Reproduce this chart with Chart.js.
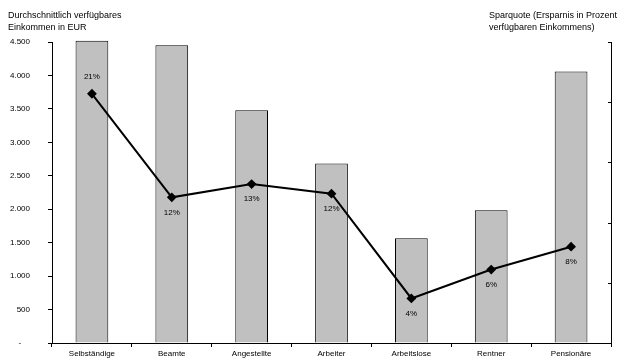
<!DOCTYPE html>
<html>
<head>
<meta charset="utf-8">
<script src="https://cdn.jsdelivr.net/npm/chart.js@4/dist/chart.umd.min.js"></script>
<style>
    body { margin: 0; background: #fff; }
    canvas { display: block; }
</style>
</head>
<body>
<canvas id="chart" width="634" height="362"></canvas>
<script>
// Daten
const kategorien = ['Selbständige', 'Beamte', 'Angestellte', 'Arbeiter', 'Arbeitslose', 'Rentner', 'Pensionäre'];
const einkommen = [4520, 4450, 3480, 2685, 1565, 1985, 4060];
const sparquote = [20.7, 12.1, 13.2, 12.4, 3.7, 6.1, 8.0];
const sparquoteLabels = ['21%', '12%', '13%', '12%', '4%', '6%', '8%'];
const titelLinks = ['Durchschnittlich verfügbares', 'Einkommen in EUR'];
const titelRechts = ['Sparquote (Ersparnis in Prozent', 'verfügbaren Einkommens)'];

const FONT = '"Liberation Sans", Arial, sans-serif';

function formatEUR(v) {
    if (v === 0) return '-    ';
    return String(v).replace(/\B(?=(\d{3})+(?!\d))/g, '.');
}

// Titel, Beschriftungen und Ticks der rechten Achse
const extras = {
    id: 'extras',
    afterDraw(chart) {
        const ctx = chart.ctx;
        ctx.save();
        ctx.fillStyle = '#000';
        ctx.font = '9px ' + FONT;
        ctx.textBaseline = 'middle';
        ctx.textAlign = 'left';
        titelLinks.forEach((t, i) => ctx.fillText(t, 8, 16 + i * 12));
        titelRechts.forEach((t, i) => ctx.fillText(t, 489, 16 + i * 12));

        // kleine Ticks an der rechten Achse (nach innen)
        const y1 = chart.scales.y1;
        ctx.strokeStyle = '#000';
        ctx.lineWidth = 1;
        y1.ticks.forEach(t => {
            const py = Math.round(y1.getPixelForValue(t.value)) + 0.5;
            ctx.beginPath();
            ctx.moveTo(y1.left - 3, py);
            ctx.lineTo(y1.left, py);
            ctx.stroke();
        });

        // Prozentwerte an der Linie
        const meta = chart.getDatasetMeta(1);
        ctx.font = '8px ' + FONT;
        ctx.textAlign = 'center';
        meta.data.forEach((pt, i) => {
            const dy = i === 0 ? -17 : 15;
            ctx.fillText(sparquoteLabels[i], pt.x, pt.y + dy);
        });
        ctx.restore();
    }
};

function keinPaddingY(scale) {
    scale.paddingTop = 0;
    scale.paddingBottom = 0;
}

new Chart(document.getElementById('chart'), {
    data: {
        labels: kategorien,
        datasets: [{
            type: 'bar',
            data: einkommen,
            yAxisID: 'y',
            backgroundColor: '#C0C0C0',
            borderColor: '#000',
            borderWidth: 1,
            categoryPercentage: 1,
            barPercentage: 0.41,
            clip: false,
            order: 1
        }, {
            type: 'line',
            data: sparquote,
            yAxisID: 'y1',
            borderColor: '#000',
            borderWidth: 2,
            pointStyle: 'rectRot',
            pointRadius: 3.5,
            pointBackgroundColor: '#000',
            pointBorderColor: '#000',
            tension: 0,
            order: 0
        }]
    },
    options: {
        responsive: false,
        animation: false,
        layout: { padding: { top: 42, left: 0, right: 0, bottom: 0 } },
        plugins: {
            legend: { display: false },
            tooltip: { enabled: false }
        },
        scales: {
            x: {
                offset: true,
                grid: { offset: true, drawOnChartArea: false, drawTicks: true, tickLength: 4, color: '#000' },
                border: { color: '#000', width: 1 },
                ticks: { color: '#000', font: { family: FONT, size: 8 }, padding: 2, maxRotation: 0 },
                afterFit(scale) {
                    scale.height = 19;
                    scale.paddingLeft = 0;
                    scale.paddingRight = 0;
                }
            },
            y: {
                position: 'left',
                min: 0,
                max: 4500,
                ticks: { stepSize: 500, color: '#000', font: { family: FONT, size: 8 }, padding: 18, callback: formatEUR },
                grid: { drawOnChartArea: false, drawTicks: true, tickLength: 4, color: '#000' },
                border: { color: '#000', width: 1 },
                afterFit(scale) {
                    scale.width = 52;
                    keinPaddingY(scale);
                }
            },
            y1: {
                position: 'right',
                min: 0,
                max: 25,
                ticks: { stepSize: 5, display: false },
                grid: { drawOnChartArea: false, drawTicks: false },
                border: { color: '#000', width: 1 },
                afterFit(scale) {
                    scale.width = 23;
                    keinPaddingY(scale);
                }
            }
        }
    },
    plugins: [extras]
});
</script>
</body>
</html>
